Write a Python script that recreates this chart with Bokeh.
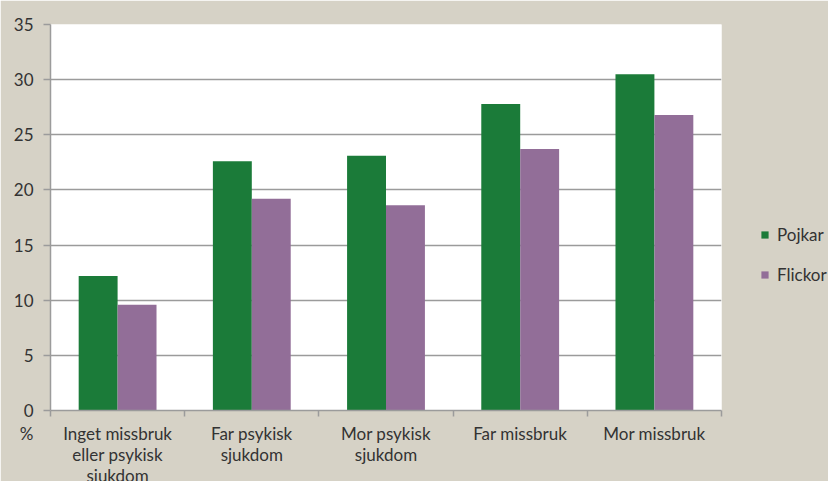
from bokeh.plotting import figure
from bokeh.models import Range1d, FixedTicker, Legend
from bokeh.embed import file_html
from bokeh.resources import INLINE

# ---- data ----
categories = ["Inget missbruk\neller psykisk\nsjukdom", "Far psykisk\nsjukdom",
              "Mor psykisk\nsjukdom", "Far missbruk", "Mor missbruk"]
pojkar = [12.2, 22.6, 23.1, 27.8, 30.5]
flickor = [9.6, 19.2, 18.6, 23.7, 26.8]
y_ticks = [0, 5, 10, 15, 20, 25, 30, 35]
series_names = ["Pojkar", "Flickor"]
unit_label = "%"

BG = "#d6d2c6"
GREEN = "#1b7b39"
PURPLE = "#926e98"
GRID = "#9b9b9b"
TEXT = "#333333"
FONT = "Lato"

n = len(categories)
centers = [i + 0.5 for i in range(n)]
bar_w = 0.29
x_p = [c - bar_w / 2 for c in centers]
x_f = [c + bar_w / 2 for c in centers]

p = figure(frame_width=671, frame_height=386, x_range=Range1d(0, n), y_range=Range1d(0, 35),
           output_backend="svg", toolbar_location=None,
           min_border_left=50, min_border_right=107, min_border_top=24, min_border_bottom=0)
p.background_fill_color = "white"
p.border_fill_color = BG
p.outline_line_color = None

r1 = p.vbar(x=x_p, top=pojkar, width=bar_w, fill_color=GREEN, line_color=None)
r2 = p.vbar(x=x_f, top=flickor, width=bar_w, fill_color=PURPLE, line_color=None)

# y axis
ya = p.yaxis[0]
ya.ticker = FixedTicker(ticks=y_ticks)
ya.axis_line_color = GRID
ya.axis_line_width = 1.5
ya.major_tick_line_color = GRID
ya.major_tick_line_width = 1.5
ya.major_tick_out = 7
ya.major_tick_in = 0
ya.minor_tick_line_color = None
ya.major_label_standoff = 10
ya.major_label_text_font = FONT
ya.major_label_text_font_size = "17px"
ya.major_label_text_color = TEXT

# x axis: labels at category centres, ticks at category boundaries
xa = p.xaxis[0]
xa.ticker = FixedTicker(ticks=[0] + centers, minor_ticks=list(range(n + 1)))
overrides = {c: lab for c, lab in zip(centers, categories)}
overrides[0] = unit_label + "\u00a0" * 11
xa.major_label_overrides = overrides
xa.axis_line_color = GRID
xa.axis_line_width = 1.5
xa.major_tick_line_color = None
xa.major_tick_out = 0
xa.major_tick_in = 0
xa.minor_tick_line_color = GRID
xa.minor_tick_line_width = 1.5
xa.minor_tick_out = 6
xa.minor_tick_in = 0
xa.major_label_standoff = 6
xa.major_label_text_font = FONT
xa.major_label_text_font_size = "17px"
xa.major_label_text_color = TEXT
xa.major_label_text_line_height = 1.0

p.xgrid.grid_line_color = None
p.ygrid.ticker = FixedTicker(ticks=y_ticks)
p.ygrid.grid_line_color = GRID
p.ygrid.grid_line_width = 1.5

legend = Legend(items=[(series_names[0], [r1]), (series_names[1], [r2])],
                location=(39, 125))
legend.glyph_width = 9
legend.glyph_height = 9
legend.label_standoff = 8
legend.spacing = 19
legend.padding = 0
legend.margin = 0
legend.border_line_color = None
legend.background_fill_alpha = 0
legend.label_text_font = FONT
legend.label_text_font_size = "17px"
legend.label_text_color = TEXT
p.add_layout(legend, "right")

html = file_html(p, INLINE)
html = html.replace("<body>", '<body style="margin:0;overflow:hidden;background-color:%s;">' % BG, 1)
open("out.html", "w").write(html)
